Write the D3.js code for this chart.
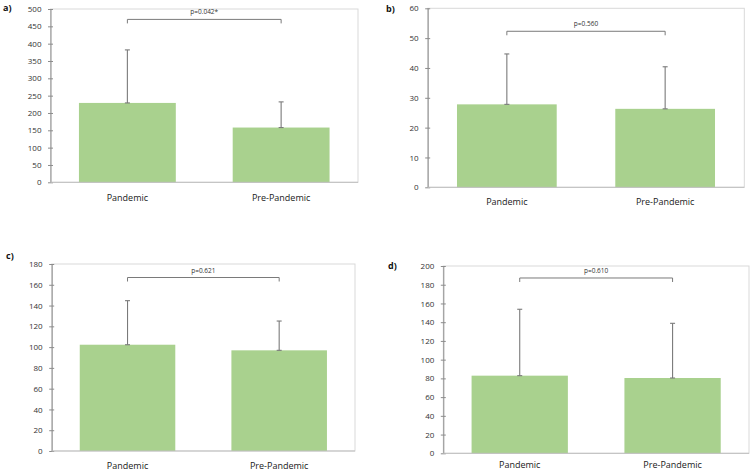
<!DOCTYPE html>
<html>
<head>
<meta charset="utf-8">
<script src="https://cdn.jsdelivr.net/npm/d3@7"></script>
<style>
  html, body { margin: 0; padding: 0; background: #fff; }
  svg { display: block; }
  text { font-family: "Open Sans", "Liberation Sans", sans-serif; }
</style>
</head>
<body>
<svg id="chart" width="756" height="473"></svg>
<script>
// ---- data ----
const categories = ["Pandemic", "Pre-Pandemic"];
const panelLabels = ["a)", "b)", "c)", "d)"];
const meansA = [229, 158];
const sdA = [153, 74];
const meansB = [27.8, 26.3];
const sdB = [16.9, 14.1];
const meansC = [102.3, 96.9];
const sdC = [42.4, 28.2];
const meansD = [82.9, 80.4];
const sdD = [70.9, 58.4];
const yMaxes = [500, 60, 180, 200];
const yStepsTicks = [50, 10, 20, 20];
const pLabels = ["p=0.042*", "p=0.560", "p=0.621", "p=0.610"];
const bracketLevels = [470, 52.3, 167, 187.2];

// ---- layout (pixels) ----
const layouts = [
  { left: 50.5, right: 358, top: 9, bottom: 182.3, lx: 3, ly: 11, catDy: 19, brDy: -5 },
  { left: 427.7, right: 744.3, top: 8.3, bottom: 187.3, lx: 386, ly: 12, catDy: 17.5, brDy: -5 },
  { left: 51.7, right: 355, top: 264, bottom: 451, lx: 6, ly: 259, catDy: 17.5, brDy: -5 },
  { left: 443.3, right: 749, top: 266, bottom: 453.3, lx: 388, ly: 269, catDy: 15, brDy: -5 }
];

const panels = [
  { means: meansA, sd: sdA },
  { means: meansB, sd: sdB },
  { means: meansC, sd: sdC },
  { means: meansD, sd: sdD }
];

const svg = d3.select("#chart");
const barColor = "#a9d18e";
const axisColor = "#8c8c8c";
const boxColor = "#d9d9d9";
const errColor = "#7a7a7a";

panels.forEach((p, i) => {
  const L = layouts[i];
  const g = svg.append("g");
  const x = d3.scaleBand().domain(categories).range([L.left, L.right]).paddingInner(0.37).paddingOuter(0.185);
  const y = d3.scaleLinear().domain([0, yMaxes[i]]).range([L.bottom, L.top]);
  const ticks = d3.range(0, yMaxes[i] + 1e-9, yStepsTicks[i]);

  // plot box
  g.append("rect")
    .attr("x", L.left).attr("y", L.top)
    .attr("width", L.right - L.left).attr("height", L.bottom - L.top)
    .attr("fill", "none").attr("stroke", boxColor).attr("stroke-width", 1);

  // bars
  g.selectAll("rect.bar").data(categories).join("rect")
    .attr("class", "bar")
    .attr("x", d => x(d))
    .attr("width", x.bandwidth())
    .attr("y", (d, j) => y(p.means[j]))
    .attr("height", (d, j) => y(0) - y(p.means[j]))
    .attr("fill", barColor);

  // error bars (upper only)
  categories.forEach((c, j) => {
    const cx = x(c) + x.bandwidth() / 2;
    const y0 = y(p.means[j]);
    const y1 = y(p.means[j] + p.sd[j]);
    g.append("line").attr("x1", cx).attr("x2", cx).attr("y1", y0).attr("y2", y1)
      .attr("stroke", errColor).attr("stroke-width", 1.1);
    [y0, y1].forEach(yy => {
      g.append("line").attr("x1", cx - 2.5).attr("x2", cx + 2.5).attr("y1", yy).attr("y2", yy)
        .attr("stroke", errColor).attr("stroke-width", 1.1);
    });
  });

  // y axis
  const yAxis = d3.axisLeft(y).tickValues(ticks).tickSize(4).tickPadding(5).tickFormat(d3.format("d"));
  const ya = g.append("g").attr("transform", `translate(${L.left},0)`).call(yAxis);
  ya.select(".domain").attr("stroke", axisColor).attr("d", `M0.5,${L.top}V${L.bottom}`);
  ya.selectAll(".tick line").attr("stroke", axisColor).attr("x2", -2.5).attr("x1", 2.5);
  ya.selectAll(".tick text").attr("font-size", 8).attr("fill", "#333")
    .style("font-family", "'Open Sans', sans-serif");

  // x axis baseline
  g.append("line").attr("x1", L.left).attr("x2", L.right).attr("y1", L.bottom).attr("y2", L.bottom)
    .attr("stroke", "#bfbfbf").attr("stroke-width", 1);

  // category labels
  g.selectAll("text.cat").data(categories).join("text")
    .attr("class", "cat")
    .attr("x", d => x(d) + x.bandwidth() / 2)
    .attr("y", L.bottom + L.catDy)
    .attr("text-anchor", "middle")
    .attr("font-size", 9).attr("fill", "#1a1a1a")
    .text(d => d);

  // significance bracket
  const bx1 = x(categories[0]) + x.bandwidth() / 2;
  const bx2 = x(categories[1]) + x.bandwidth() / 2;
  const by = y(bracketLevels[i]);
  g.append("path")
    .attr("d", `M${bx1},${by + 4}V${by}H${bx2}V${by + 4}`)
    .attr("fill", "none").attr("stroke", errColor).attr("stroke-width", 1);
  g.append("text")
    .attr("x", (bx1 + bx2) / 2).attr("y", by + L.brDy)
    .attr("text-anchor", "middle").attr("font-size", 6.5).attr("fill", "#333")
    .text(pLabels[i]);

  // panel label
  g.append("text").attr("x", L.lx).attr("y", L.ly)
    .attr("font-size", 9).attr("font-weight", "bold").attr("fill", "#111")
    .text(panelLabels[i]);
});
</script>
</body>
</html>
